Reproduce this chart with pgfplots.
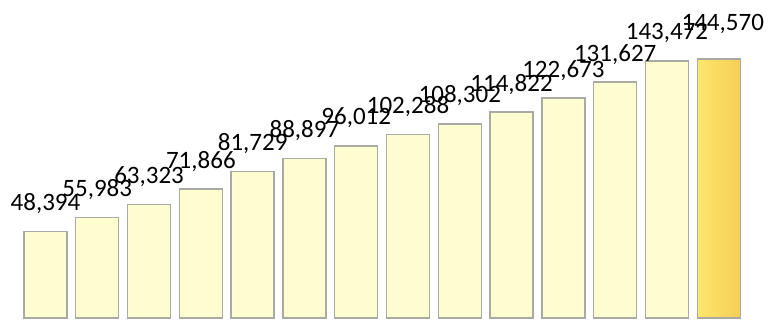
\documentclass[border=0pt]{standalone}
\usepackage{fontspec}
\setmainfont{Carlito}
\usepackage{pgfplots}
\pgfplotsset{compat=1.18}
\definecolor{barfill}{RGB}{254,253,208}
\definecolor{goldleft}{RGB}{255,230,108}
\definecolor{goldright}{RGB}{245,206,86}
\definecolor{barline}{RGB}{170,170,165}
\begin{document}
\begin{tikzpicture}
\begin{axis}[
  scale only axis,
  width=769pt, height=320pt,
  xmin=-0.878, xmax=13.97,
  ymin=-1100, ymax=177400,
  axis line style={draw=none},
  ticks=none,
  clip=false,
  ybar, bar width=43pt, bar shift=0pt,
  /pgf/number format/.cd, fixed, precision=0, 1000 sep={,}, assume math mode=true,
  /pgfplots/.cd,
  every node near coord/.append style={font=\fontsize{25}{28}\selectfont, text=black, anchor=base, inner sep=0pt},
]
\addplot[draw=barline, line width=1.4pt, fill=barfill,
  nodes near coords, every node near coord/.append style={yshift=21pt}]
  coordinates {(0,48394) (1,55983) (2,63323) (3,71866) (4,81729) (5,88897) (6,96012)
   (7,102288) (8,108302) (9,114822) (10,122673) (11,131627) (12,143472)};
\addplot[draw=barline, line width=1.4pt, left color=goldleft, right color=goldright,
  nodes near coords, every node near coord/.append style={yshift=28pt, xshift=4pt}]
  coordinates {(13,144570)};
\end{axis}
\end{tikzpicture}
\end{document}
